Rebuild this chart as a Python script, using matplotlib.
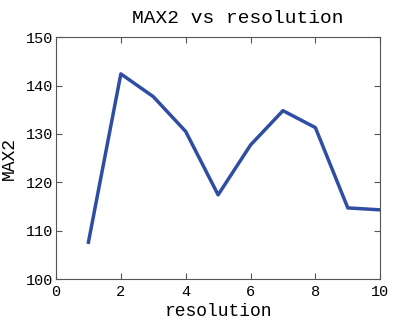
import matplotlib
matplotlib.use("Agg")
import matplotlib.pyplot as plt

resolution = [1, 2, 3, 4, 5, 6, 7, 8, 9, 10]
max2 = [107.6, 142.4, 137.7, 130.5, 117.4, 127.7, 134.8, 131.3, 114.7, 114.3]

plt.rcParams['font.family'] = ['Liberation Mono', 'DejaVu Sans Mono']

fig = plt.figure(figsize=(3.93, 3.2), dpi=100)
ax = fig.add_axes([0.1425, 0.128, 0.825, 0.756])
ax.plot(resolution, max2, color="#2f4ea3", linewidth=2.5)
ax.set_xlim(0, 10)
ax.set_ylim(100, 150)
ax.set_xticks([0, 2, 4, 6, 8, 10])
ax.set_yticks([100, 110, 120, 130, 140, 150])
ax.tick_params(direction="in", top=True, right=True, labelsize=11,
               length=4, width=0.8, color="#555555", pad=2)
ax.tick_params(axis="x", pad=4)
for s in ax.spines.values():
    s.set_color("#555555")
    s.set_linewidth(0.8)
ax.set_title("MAX2 vs resolution", fontsize=14, pad=10, x=0.56)
ax.set_xlabel("resolution", fontsize=13, labelpad=3)
ax.set_ylabel("MAX2", fontsize=13, labelpad=6)
fig.savefig("out.png", dpi=100)
